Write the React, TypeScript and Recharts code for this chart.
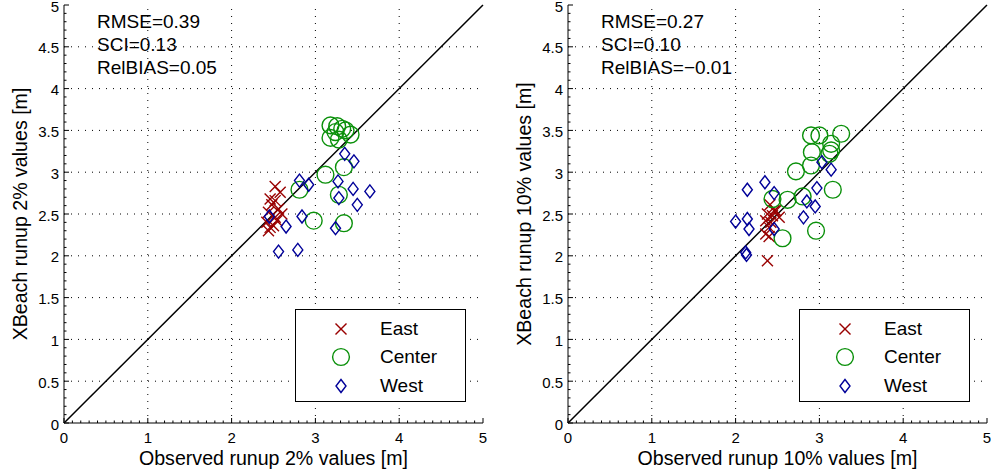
import React from 'react';
import {
  ScatterChart,
  Scatter,
  XAxis,
  YAxis,
  ReferenceLine,
  Legend,
} from 'recharts';

// [observed, xbeach] pairs
const east2 = [
  [2.52, 2.83], [2.58, 2.76], [2.46, 2.68], [2.52, 2.66], [2.48, 2.61],
  [2.56, 2.56], [2.44, 2.52], [2.6, 2.5], [2.52, 2.46], [2.42, 2.4],
  [2.46, 2.34], [2.5, 2.36], [2.54, 2.42], [2.44, 2.3],
];
const center2 = [
  [3.18, 3.56], [3.26, 3.55], [3.32, 3.52], [3.24, 3.48], [3.42, 3.45],
  [3.18, 3.41], [3.28, 3.39], [3.36, 3.5], [3.34, 3.06], [3.12, 2.97],
  [2.81, 2.79], [3.28, 2.73], [2.98, 2.42], [3.34, 2.39],
];
const west2 = [
  [3.35, 3.22], [3.46, 3.13], [2.81, 2.9], [2.92, 2.85], [3.27, 2.89],
  [3.45, 2.8], [3.65, 2.77], [3.28, 2.69], [3.5, 2.61], [2.84, 2.47],
  [2.45, 2.47], [2.65, 2.35], [3.24, 2.33], [2.56, 2.05], [2.79, 2.07],
];

const east10 = [
  [2.41, 2.61], [2.48, 2.54], [2.38, 2.5], [2.44, 2.48], [2.52, 2.46],
  [2.36, 2.42], [2.42, 2.4], [2.4, 2.34], [2.36, 2.26], [2.4, 2.23],
  [2.38, 1.94], [2.46, 2.54],
];
const center10 = [
  [2.9, 3.44], [3.0, 3.44], [3.26, 3.46], [3.14, 3.34], [3.14, 3.26],
  [2.91, 3.24], [2.9, 3.08], [3.12, 3.22], [2.72, 3.01], [3.16, 2.79],
  [2.8, 2.71], [2.62, 2.67], [2.44, 2.68], [2.96, 2.3], [2.56, 2.21],
];
const west10 = [
  [3.03, 3.12], [3.14, 3.03], [2.14, 2.79], [2.35, 2.88], [2.46, 2.75],
  [2.97, 2.81], [2.85, 2.65], [2.95, 2.59], [2.81, 2.46], [2.0, 2.41],
  [2.14, 2.44], [2.16, 2.32], [2.46, 2.32], [2.12, 2.04], [2.13, 2.01],
];

const stats2 = ['RMSE=0.39', 'SCI=0.13', 'RelBIAS=0.05'];
const stats10 = ['RMSE=0.27', 'SCI=0.10', 'RelBIAS=\u22120.01'];

const gridX = [1, 2, 3, 4];
const gridY = [0.5, 1, 1.5, 2, 2.5, 3, 3.5, 4, 4.5];
const minorTicks = Array.from({ length: 51 }, (_, i) => i / 10);

const EAST = '#990000';
const CENTER = '#0a900a';
const WEST = '#000099';
const FONT = '"Liberation Sans", Arial, Helvetica, sans-serif';

const toPoints = (pairs: number[][]) => pairs.map(([x, y]) => ({ x, y }));

const isInt = (v: number) => Math.abs(v - Math.round(v)) < 1e-6;
const isHalf = (v: number) => Math.abs(v * 2 - Math.round(v * 2)) < 1e-6;

function CrossMark({ cx, cy }: any) {
  const s = 5.5;
  return (
    <g stroke={EAST} strokeWidth={1.4}>
      <line x1={cx - s} y1={cy - s} x2={cx + s} y2={cy + s} />
      <line x1={cx - s} y1={cy + s} x2={cx + s} y2={cy - s} />
    </g>
  );
}

function CircleMark({ cx, cy }: any) {
  return <circle cx={cx} cy={cy} r={8.4} fill="none" stroke={CENTER} strokeWidth={1.4} />;
}

function DiamondMark({ cx, cy }: any) {
  const w = 5;
  const h = 6.5;
  return (
    <polygon
      points={`${cx},${cy - h} ${cx + w},${cy} ${cx},${cy + h} ${cx - w},${cy}`}
      fill="none"
      stroke={WEST}
      strokeWidth={1.4}
    />
  );
}

function BottomTick({ x, y, payload }: any) {
  const v = payload.value;
  const major = isInt(v);
  return (
    <g>
      <line x1={x} y1={y} x2={x} y2={y - (major ? 5 : 2.5)} stroke="#000" />
      {major && (
        <text x={x} y={y + 20} textAnchor="middle" fontSize={15} fontFamily={FONT} fill="#000">
          {v}
        </text>
      )}
    </g>
  );
}

function LeftTick({ x, y, payload }: any) {
  const v = payload.value;
  const major = isHalf(v);
  return (
    <g>
      <line x1={x} y1={y} x2={x + (major ? 5 : 2.5)} y2={y} stroke="#000" />
      {major && (
        <text x={x - 5} y={y + 6.5} textAnchor="end" fontSize={15} fontFamily={FONT} fill="#000">
          {Number(v.toFixed(1))}
        </text>
      )}
    </g>
  );
}

function TopTick({ x, y, payload }: any) {
  const major = isInt(payload.value);
  return <line x1={x} y1={y} x2={x} y2={y + (major ? 5 : 2.5)} stroke="#000" />;
}

function RightTick({ x, y, payload }: any) {
  const major = isHalf(payload.value);
  return <line x1={x} y1={y} x2={x - (major ? 5 : 2.5)} y2={y} stroke="#000" />;
}

function LegendBox() {
  const rows = [
    { name: 'East', mark: <CrossMark cx={12} cy={12} /> },
    { name: 'Center', mark: <CircleMark cx={12} cy={12} /> },
    { name: 'West', mark: <DiamondMark cx={12} cy={12} /> },
  ];
  return (
    <div
      style={{
        boxSizing: 'border-box',
        width: 171,
        height: 93,
        border: '1px solid #000',
        background: '#fff',
        paddingTop: 5,
        fontFamily: FONT,
        fontSize: 19,
        color: '#000',
      }}
    >
      {rows.map((r) => (
        <div key={r.name} style={{ display: 'flex', alignItems: 'center', height: 28.3 }}>
          <svg width={24} height={24} style={{ marginLeft: 33 }}>
            {r.mark}
          </svg>
          <span style={{ marginLeft: 27 }}>{r.name}</span>
        </div>
      ))}
    </div>
  );
}

interface PanelProps {
  left: number;
  width: number;
  marginRight: number;
  xTitle: string;
  yTitle: string;
  stats: string[];
  east: number[][];
  center: number[][];
  west: number[][];
}

function Panel({ left, width, marginRight, xTitle, yTitle, stats, east, center, west }: PanelProps) {
  return (
    <div style={{ position: 'absolute', left, top: 0, width, height: 476 }}>
      <ScatterChart
        width={width}
        height={476}
        margin={{ top: 5, right: marginRight, bottom: 3, left: 0 }}
      >
        <XAxis
          type="number"
          dataKey="x"
          domain={[0, 5]}
          ticks={minorTicks}
          interval={0}
          tickSize={0}
          tickMargin={0}
          tick={(p: any) => <BottomTick {...p} />}
          height={50}
          axisLine={{ stroke: '#000' }}
          allowDataOverflow
          label={{
            value: xTitle,
            position: 'insideBottom',
            offset: 8,
            style: { fontSize: 19.6, fill: '#000', fontFamily: FONT },
          }}
        />
        <YAxis
          type="number"
          dataKey="y"
          domain={[0, 5]}
          ticks={minorTicks}
          interval={0}
          tickSize={0}
          tickMargin={0}
          tick={(p: any) => <LeftTick {...p} />}
          width={64}
          axisLine={{ stroke: '#000' }}
          allowDataOverflow
          label={{
            value: yTitle,
            angle: -90,
            position: 'insideLeft',
            offset: 20,
            style: { fontSize: 19.6, fill: '#000', fontFamily: FONT, textAnchor: 'middle' },
          }}
        />
        <XAxis
          xAxisId="top"
          orientation="top"
          type="number"
          domain={[0, 5]}
          ticks={minorTicks}
          interval={0}
          tickSize={0}
          tickMargin={0}
          tick={(p: any) => <TopTick {...p} />}
          height={0}
          axisLine={{ stroke: '#000' }}
        />
        <YAxis
          yAxisId="right"
          orientation="right"
          type="number"
          domain={[0, 5]}
          ticks={minorTicks}
          interval={0}
          tickSize={0}
          tickMargin={0}
          tick={(p: any) => <RightTick {...p} />}
          width={0}
          axisLine={{ stroke: '#000' }}
        />
        {gridX.map((v) => (
          <ReferenceLine key={'gx' + v} x={v} stroke="#000" strokeDasharray="1 6" />
        ))}
        {gridY.map((v) => (
          <ReferenceLine key={'gy' + v} y={v} stroke="#000" strokeDasharray="1 6" />
        ))}
        <Scatter
          name="East"
          data={toPoints(east)}
          shape={(p: any) => <CrossMark cx={p.cx} cy={p.cy} />}
          isAnimationActive={false}
        />
        <Scatter
          name="Center"
          data={toPoints(center)}
          shape={(p: any) => <CircleMark cx={p.cx} cy={p.cy} />}
          isAnimationActive={false}
        />
        <Scatter
          name="West"
          data={toPoints(west)}
          shape={(p: any) => <DiamondMark cx={p.cx} cy={p.cy} />}
          isAnimationActive={false}
        />
        <ReferenceLine
          segment={[
            { x: 0, y: 0 },
            { x: 5, y: 5 },
          ]}
          stroke="#000"
          strokeWidth={1.5}
        />
        <Legend
          layout="horizontal"
          verticalAlign="middle"
          align="center"
          content={() => <LegendBox />}
          wrapperStyle={{ left: 295, top: 309, width: 171, height: 93 }}
        />
      </ScatterChart>
      <svg
        width={300}
        height={90}
        style={{ position: 'absolute', left: 0, top: 0, pointerEvents: 'none' }}
      >
        {stats.map((s, i) => (
          <text key={s} x={97} y={28 + i * 23} fontSize={19} fontFamily={FONT} fill="#000">
            {s}
          </text>
        ))}
      </svg>
    </div>
  );
}

export default function App() {
  return (
    <div
      style={{
        position: 'absolute',
        left: 0,
        top: 0,
        width: 991,
        height: 476,
        background: '#fff',
        overflow: 'hidden',
      }}
    >
      <Panel
        left={0}
        width={495}
        marginRight={12}
        xTitle="Observed runup 2% values [m]"
        yTitle="XBeach runup 2% values [m]"
        stats={stats2}
        east={east2}
        center={center2}
        west={west2}
      />
      <Panel
        left={504}
        width={487}
        marginRight={4}
        xTitle="Observed runup 10% values [m]"
        yTitle="XBeach runup 10% values [m]"
        stats={stats10}
        east={east10}
        center={center10}
        west={west10}
      />
    </div>
  );
}
